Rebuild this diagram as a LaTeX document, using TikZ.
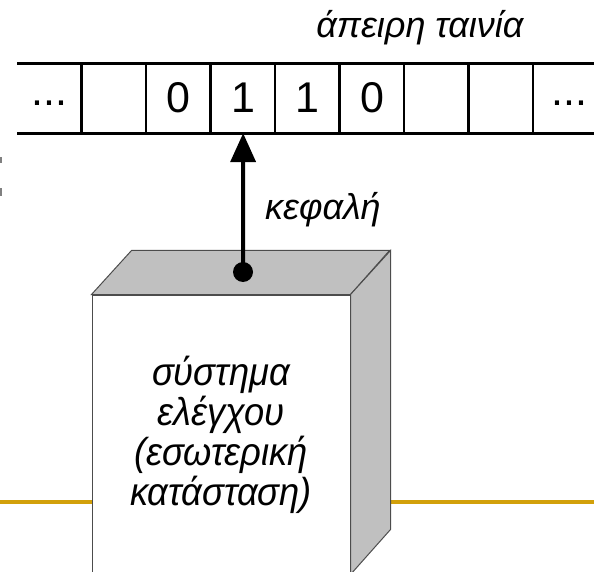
\documentclass[tikz,border=0pt]{standalone}
\usepackage{fontspec}
\setmainfont{Liberation Sans}
\newfontfamily\boxfont[FakeStretch=0.93]{Liberation Sans}
\usetikzlibrary{arrows.meta}

\definecolor{railgold}{RGB}{210,160,10}
\definecolor{facegray}{RGB}{192,192,192}

\begin{document}
\begin{tikzpicture}[x=0.5pt,y=-0.5pt,font=\fontsize{21.5pt}{24pt}\selectfont]
    \tikzstyle{cell}=[inner sep=0pt,minimum width=32.25pt,minimum height=34.5pt,text height=24.5pt,text depth=10pt]
    \tikzstyle{tape}=[matrix,inner sep=0pt,column sep=0pt,nodes={cell}]
    \tikzstyle{caption}=[font=\itshape\fontsize{18pt}{20pt}\selectfont]
    \tikzstyle{front}=[rectangle,draw=black!70,line width=0.5pt,fill=white,minimum width=129pt,minimum height=139.5pt,align=center,font=\boxfont\itshape\fontsize{19.5pt}{20pt}\selectfont]
    \tikzstyle{face}=[draw=black!70,line width=0.5pt,fill=facegray]
    \tikzstyle{rail}=[railgold,line width=1.6pt]
    \tikzstyle{knob}=[circle,fill=black,inner sep=0pt,minimum size=10pt]
    \useasboundingbox (0,0) rectangle (594,572);
    \clip (0,0) rectangle (594,572);
    \fill[gray] (0,157) rectangle (1.5,163);
    \fill[gray] (0,188) rectangle (1.5,196);
    \coordinate (railL) at (0,502);
    \coordinate (railR) at (594,502);
    \node[front] (ctrl) at (221,434.5) {σύστημα\\ελέγχου\\(εσωτερική\\κατάσταση)};
    \draw[rail] (railL) -- (railL -| ctrl.west);
    \draw[rail] (railR) -- ([xshift=20pt]ctrl.east |- railR);
    \draw[face] (ctrl.north west) -- ++(40,-44) -- ++(258,0) -- (ctrl.north east) -- cycle;
    \draw[face] (ctrl.north east) -- ++(40,-44) -- ++(0,279) -- (ctrl.south east) -- cycle;
    \matrix [tape,anchor=north west] at (17,63) {
      \node (c1) {\raisebox{3.5pt}{...}\hspace{5pt}}; & \node (c2) {}; & \node (c3) {0}; & \node (c4) {1}; & \node (c5) {1}; & \node (c6) {0}; & \node (c7) {}; & \node (c8) {}; & \node (c9) {\hspace{4pt}\raisebox{3.5pt}{...}}; \\
    };
    \draw[line width=1.4pt] (c1.north west) -- (c9.north east);
    \draw[line width=1.4pt] (c1.south west) -- (c9.south east);
    \draw[line width=1.4pt] (c2.north west) -- (c2.south west);
    \draw[line width=1.4pt] (c3.north west) -- (c3.south west);
    \draw[line width=1.4pt] (c4.north west) -- (c4.south west);
    \draw[line width=1.4pt] (c5.north west) -- (c5.south west);
    \draw[line width=1.4pt] (c6.north west) -- (c6.south west);
    \draw[line width=1.4pt] (c7.north west) -- (c7.south west);
    \draw[line width=1.4pt] (c8.north west) -- (c8.south west);
    \draw[line width=1.4pt] (c9.north west) -- (c9.south west);
    \node[knob] (knob) at (243,272) {};
    \draw[line width=2pt,-{Triangle[length=14.5pt,width=12.5pt]}] (knob.center) -- (c4.south);
    \node[caption,anchor=base] (headlbl) at (323,220) {κεφαλή};
    \node[caption,anchor=base] (tapelbl) at (420,38) {άπειρη ταινία};
  \end{tikzpicture}
\end{document}
